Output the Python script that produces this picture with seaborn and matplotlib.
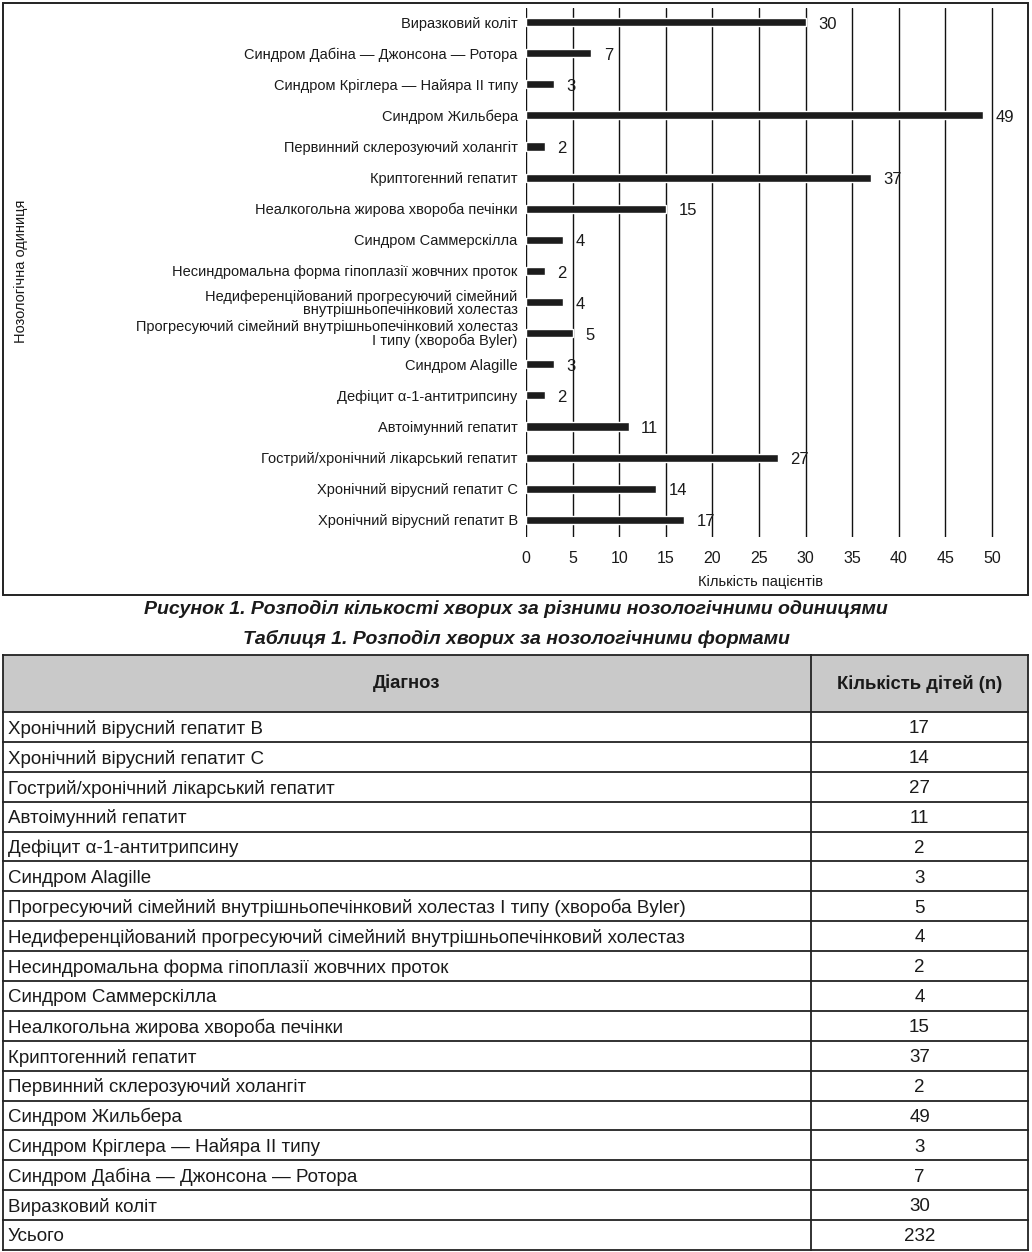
import matplotlib
matplotlib.use("Agg")
import matplotlib.pyplot as plt
import matplotlib.patches as mpatches
import seaborn as sns
import pandas as pd

# ---------------- data ----------------
diagnoses = [
    "Хронічний вірусний гепатит В",
    "Хронічний вірусний гепатит С",
    "Гострий/хронічний лікарський гепатит",
    "Автоімунний гепатит",
    "Дефіцит α-1-антитрипсину",
    "Синдром Alagille",
    "Прогресуючий сімейний внутрішньопечінковий холестаз І типу (хвороба Byler)",
    "Недиференційований прогресуючий сімейний внутрішньопечінковий холестаз",
    "Несиндромальна форма гіпоплазії жовчних проток",
    "Синдром Саммерскілла",
    "Неалкогольна жирова хвороба печінки",
    "Криптогенний гепатит",
    "Первинний склерозуючий холангіт",
    "Синдром Жильбера",
    "Синдром Кріглера — Найяра II типу",
    "Синдром Дабіна — Джонсона — Ротора",
    "Виразковий коліт",
]
chart_labels = [
    "Хронічний вірусний гепатит В",
    "Хронічний вірусний гепатит С",
    "Гострий/хронічний лікарський гепатит",
    "Автоімунний гепатит",
    "Дефіцит α-1-антитрипсину",
    "Синдром Alagille",
    "Прогресуючий сімейний внутрішньопечінковий холестаз\nІ типу (хвороба Byler)",
    "Недиференційований прогресуючий сімейний\nвнутрішньопечінковий холестаз",
    "Несиндромальна форма гіпоплазії жовчних проток",
    "Синдром Саммерскілла",
    "Неалкогольна жирова хвороба печінки",
    "Криптогенний гепатит",
    "Первинний склерозуючий холангіт",
    "Синдром Жильбера",
    "Синдром Кріглера — Найяра II типу",
    "Синдром Дабіна — Джонсона — Ротора",
    "Виразковий коліт",
]
counts = [17, 14, 27, 11, 2, 3, 5, 4, 2, 4, 15, 37, 2, 49, 3, 7, 30]
total_label = "Усього"
x_ticks = [0, 5, 10, 15, 20, 25, 30, 35, 40, 45, 50]

xlabel = "Кількість пацієнтів"
ylabel = "Нозологічна одиниця"
fig_caption = "Рисунок 1. Розподіл кількості хворих за різними нозологічними одиницями"
tab_caption = "Таблиця 1. Розподіл хворих за нозологічними формами"
col_headers = ["Діагноз", "Кількість дітей (n)"]

# ---------------- style ----------------
sns.set_theme(style="white")
plt.rcParams["font.family"] = ["Liberation Sans", "DejaVu Sans"]
TXT = "#1a1a1a"

W, H = 1032, 1252
fig = plt.figure(figsize=(W / 100, H / 100), dpi=100)
fig.patch.set_facecolor("white")

# ---------------- chart ----------------
df = pd.DataFrame({"label": chart_labels[::-1], "count": counts[::-1]})

ax = fig.add_axes([526 / W, 1 - 537 / H, (1020 - 526) / W, (537 - 8) / H])
sns.barplot(data=df, x="count", y="label", orient="h", color="#1c1c1c",
            saturation=1, width=0.26, ax=ax, zorder=3)
labs = ax.bar_label(ax.containers[0], padding=10, fontsize=12, color=TXT)
for t in labs:
    t.set_va("center")
    x0, y0 = t.xyann
    t.xyann = (x0 - 1, y0 - 1.5)
ax.set_xlim(0, 53)
ax.set_ylim(len(df) - 0.45, -0.45)
ax.set_xticks(x_ticks)
ax.grid(axis="x", color="#111111", linewidth=1.0, zorder=0)
ax.grid(axis="y", visible=False)
for s in ax.spines.values():
    s.set_visible(False)
ax.tick_params(axis="x", length=0, pad=10, labelsize=11.5, labelcolor=TXT)
ax.tick_params(axis="y", length=0, pad=6, labelsize=10.5, labelcolor=TXT)
for t in ax.get_yticklabels():
    t.set_linespacing(0.95)
ax.set_ylabel("")
ax.set_xlabel(xlabel, fontsize=10.5, color=TXT)
ax.xaxis.set_label_coords((760 - 526) / (1020 - 526), -(582 - 537) / (537 - 8), transform=ax.transAxes)
ax.xaxis.label.set_va("center")

fig.text(21 / W, 1 - 271 / H, ylabel, rotation=90, ha="center", va="center",
         fontsize=10.5, color=TXT)

# chart frame
fig.patches.append(mpatches.Rectangle((3 / W, 1 - 595 / H), (1028 - 3) / W, (595 - 3) / H,
                                      transform=fig.transFigure, fill=False,
                                      edgecolor="#222222", linewidth=1.4))

# captions
fig.text(516 / W, 1 - 609 / H, fig_caption, ha="center", va="center",
         fontsize=14, fontweight="bold", fontstyle="italic", color=TXT)
fig.text(516 / W, 1 - 639 / H, tab_caption, ha="center", va="center",
         fontsize=14, fontweight="bold", fontstyle="italic", color=TXT)

# ---------------- table ----------------
tab_left, tab_right, tab_top, tab_bot = 3, 1028, 655, 1250
tw = tab_right - tab_left
tax = fig.add_axes([tab_left / W, 1 - tab_bot / H, tw / W, (tab_bot - tab_top) / H])
rows = diagnoses + [total_label]
vals = counts + [sum(counts)]
hdr = 57 / ((tab_bot - 712) / len(rows))
n_units = hdr + len(rows)
tax.set_xlim(0, tw)
tax.set_ylim(n_units, 0)
tax.axis("off")
split = 811 - tab_left

tax.add_patch(mpatches.Rectangle((0, 0), tw, hdr, facecolor="#c9c9c9", edgecolor="none", zorder=0))
lc = "#222222"
lw = 1.3
for yy in [0, hdr] + [hdr + i + 1 for i in range(len(rows))]:
    tax.plot([0, tw], [yy, yy], color=lc, lw=lw, clip_on=False, solid_capstyle="projecting")
for xx in [0, split, tw]:
    tax.plot([xx, xx], [0, n_units], color=lc, lw=lw, clip_on=False, solid_capstyle="projecting")

tax.text(split / 2, hdr / 2, col_headers[0], ha="center", va="center",
         fontsize=13.3, fontweight="bold", color=TXT)
tax.text((split + tw) / 2, hdr / 2, col_headers[1], ha="center", va="center",
         fontsize=13.3, fontweight="bold", color=TXT)
for i, (name, v) in enumerate(zip(rows, vals)):
    yc = hdr + i + 0.56
    tax.text(5, yc, name, ha="left", va="center", fontsize=13.5, color=TXT)
    tax.text((split + tw) / 2, yc, str(v), ha="center", va="center", fontsize=13.5,
             color=TXT)

fig.savefig("out.png", dpi=100, facecolor="white")
